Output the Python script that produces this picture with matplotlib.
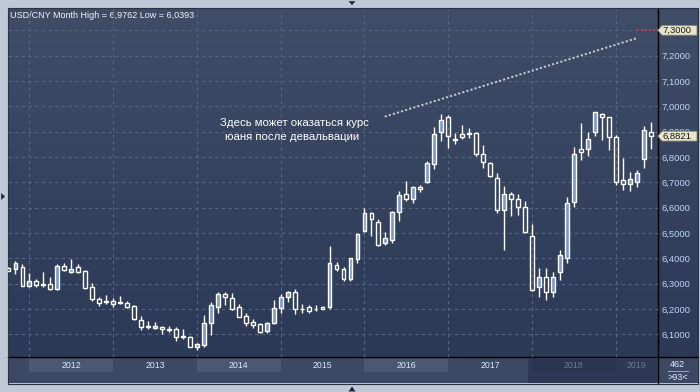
import numpy as np
import matplotlib
matplotlib.use('Agg')
import matplotlib.pyplot as plt
from matplotlib.patches import Rectangle, Polygon
from matplotlib.transforms import blended_transform_factory
from matplotlib.colors import LinearSegmentedColormap
from matplotlib.ticker import FixedLocator, FuncFormatter

plt.rcParams['font.family'] = ['Liberation Sans', 'DejaVu Sans']

# ---------------- data ----------------
# month index: 0 = Jan 2012 ; -3 = Oct 2011 ... 89 = Jun 2019
month_idx = list(range(-3, 90))
opens = [6.362, 6.357, 6.364, 6.292, 6.309, 6.298, 6.299, 6.278, 6.370, 6.347, 6.364, 6.350,
         6.285, 6.238, 6.231, 6.231, 6.226, 6.222, 6.212, 6.156, 6.134, 6.125, 6.128, 6.121,
         6.121, 6.094, 6.090, 6.051, 6.058, 6.143, 6.209, 6.259, 6.242, 6.207, 6.172, 6.150,
         6.141, 6.114, 6.143, 6.205, 6.248, 6.268, 6.201, 6.207, 6.201, 6.209, 6.209, 6.372,
         6.357, 6.317, 6.396, 6.509, 6.578, 6.545, 6.462, 6.472, 6.584, 6.653, 6.633, 6.680,
         6.701, 6.771, 6.897, 6.957, 6.870, 6.889, 6.893, 6.893, 6.810, 6.775, 6.716, 6.591,
         6.653, 6.633, 6.601, 6.489, 6.288, 6.326, 6.268, 6.347, 6.400, 6.623, 6.830, 6.830,
         6.900, 6.968, 6.957, 6.878, 6.709, 6.692, 6.702, 6.791, 6.897]
highs = [6.366, 6.389, 6.378, 6.341, 6.318, 6.345, 6.325, 6.378, 6.380, 6.396, 6.378, 6.354,
         6.301, 6.248, 6.254, 6.244, 6.251, 6.231, 6.214, 6.172, 6.152, 6.147, 6.133, 6.133,
         6.128, 6.120, 6.093, 6.064, 6.176, 6.229, 6.268, 6.268, 6.262, 6.220, 6.185, 6.159,
         6.143, 6.150, 6.235, 6.259, 6.270, 6.278, 6.218, 6.214, 6.214, 6.212, 6.449, 6.387,
         6.365, 6.402, 6.498, 6.597, 6.583, 6.554, 6.505, 6.588, 6.666, 6.705, 6.685, 6.689,
         6.784, 6.919, 6.970, 6.966, 6.893, 6.926, 6.913, 6.900, 6.847, 6.780, 6.735, 6.685,
         6.662, 6.654, 6.625, 6.535, 6.360, 6.360, 6.345, 6.433, 6.641, 6.838, 6.935, 6.897,
         6.976, 6.975, 6.959, 6.887, 6.795, 6.742, 6.748, 6.922, 6.937]
lows = [6.348, 6.337, 6.290, 6.288, 6.288, 6.288, 6.275, 6.275, 6.350, 6.343, 6.341, 6.280,
        6.233, 6.213, 6.218, 6.209, 6.218, 6.204, 6.156, 6.117, 6.120, 6.120, 6.101, 6.109,
        6.075, 6.080, 6.049, 6.039, 6.051, 6.097, 6.185, 6.216, 6.196, 6.167, 6.133, 6.124,
        6.106, 6.106, 6.141, 6.185, 6.229, 6.179, 6.185, 6.185, 6.190, 6.198, 6.201, 6.351,
        6.310, 6.310, 6.383, 6.505, 6.488, 6.449, 6.453, 6.462, 6.548, 6.627, 6.617, 6.663,
        6.696, 6.754, 6.864, 6.834, 6.850, 6.870, 6.876, 6.805, 6.758, 6.720, 6.578, 6.433,
        6.568, 6.571, 6.499, 6.272, 6.248, 6.235, 6.248, 6.314, 6.380, 6.601, 6.788, 6.805,
        6.884, 6.867, 6.827, 6.689, 6.670, 6.667, 6.682, 6.758, 6.831]
closes = [6.351, 6.380, 6.292, 6.309, 6.294, 6.295, 6.278, 6.370, 6.353, 6.359, 6.347, 6.284,
          6.238, 6.225, 6.226, 6.218, 6.222, 6.209, 6.160, 6.130, 6.130, 6.134, 6.120, 6.117,
          6.090, 6.090, 6.051, 6.062, 6.143, 6.216, 6.258, 6.246, 6.200, 6.170, 6.143, 6.137,
          6.110, 6.146, 6.203, 6.248, 6.268, 6.199, 6.199, 6.193, 6.199, 6.201, 6.380, 6.357,
          6.317, 6.400, 6.495, 6.578, 6.554, 6.453, 6.479, 6.584, 6.649, 6.633, 6.680, 6.672,
          6.775, 6.889, 6.946, 6.884, 6.867, 6.880, 6.890, 6.810, 6.779, 6.726, 6.591, 6.653,
          6.633, 6.601, 6.505, 6.276, 6.326, 6.268, 6.326, 6.413, 6.617, 6.810, 6.821, 6.870,
          6.976, 6.957, 6.878, 6.700, 6.692, 6.713, 6.735, 6.906, 6.882]

year_labels = ['2012', '2013', '2014', '2015', '2016', '2017', '2018', '2019']
year_label_pos = [6, 18, 30, 42, 54, 66, 78, 87]
year_starts = [0, 12, 24, 36, 48, 60, 72, 84]
y_ticks = [6.1, 6.2, 6.3, 6.4, 6.5, 6.6, 6.7, 6.8, 6.9, 7.0, 7.1, 7.2, 7.3]
last_price = 6.8821
target_price = 7.3
proj_x = [50.9, 86.9]
proj_y = [6.959, 7.268]
title = 'USD/CNY Month High = 6,9762 Low = 6,0393'
note_lines = ['Здесь может оказаться курс', 'юаня после девальвации']
bar_count_top = '462'
bar_count_bot = '>93<'

# ---------------- figure ----------------
W, H = 700, 392
fig = plt.figure(figsize=(7, 3.92), dpi=100, facecolor='#bec8d6')
bg = fig.add_axes([0, 0, 1, 1], zorder=0)
bg.set_xlim(0, W); bg.set_ylim(H, 0); bg.axis('off')

# panel gradient
cmap = LinearSegmentedColormap.from_list('g', ['#404d67', '#2c3957'])
grad = np.linspace(0, 1, 256)[:, None]
bg.imshow(grad, extent=(8, 697.5, 357, 8.5), cmap=cmap, aspect='auto',
          interpolation='bilinear', zorder=0)
# bottom bar
bg.add_patch(Rectangle((8, 357), 689.5, 26.3, facecolor='#3c4964', edgecolor='none', zorder=1))

# main axes
L0, R0, T0, B0 = 8, 657.6, 8.5, 357
ax = fig.add_axes([L0 / W, 1 - B0 / H, (R0 - L0) / W, (B0 - T0) / H], zorder=1)
ax.patch.set_alpha(0)
ax.set_xlim(-3.066, 90.0)
ax.set_ylim(6.0102, 7.386)
for s in ax.spines.values():
    s.set_visible(False)

# grid
ax.yaxis.set_major_locator(FixedLocator(y_ticks))
ax.yaxis.set_major_formatter(FuncFormatter(lambda v, p: f'{v:.4f}'.replace('.', ',')))
ax.xaxis.set_major_locator(FixedLocator(year_label_pos))
ax.xaxis.set_minor_locator(FixedLocator(year_starts))
ax.set_xticklabels(year_labels)
ax.grid(True, axis='y', which='major', color='#56647f', lw=0.8, ls=(0, (3, 3)))
ax.grid(True, axis='x', which='minor', color='#56647f', lw=0.8, ls=(0, (3, 3)))
ax.grid(False, axis='x', which='major')
ax.tick_params(axis='y', which='both', length=0, left=False, right=True,
               labelleft=False, labelright=True, pad=2.5, labelsize=6.8, labelcolor='#bcd4f4')
ax.tick_params(axis='x', which='both', length=0, pad=3.0, labelsize=6.3)
for lab, yl in zip(ax.get_xticklabels(), year_labels):
    lab.set_color('#6e7990' if yl in ('2018', '2019') else '#dfe8f6')

# year boxes in the bottom bar
btr = blended_transform_factory(ax.transData, bg.transData)
ax.add_patch(Rectangle((71.5, 357.5), 18.5, 25.5, transform=btr, clip_on=False,
                       facecolor='#2d3955', edgecolor='none', zorder=0.5))
for ys in (0, 24, 48):
    ax.add_patch(Rectangle((ys, 359), 12, 13.3, transform=btr, clip_on=False,
                           facecolor='#4b5873', edgecolor='none', zorder=0.6))
ax.add_patch(Rectangle((72, 359), 12, 13.3, transform=btr, clip_on=False,
                       facecolor='#2a3550', edgecolor='none', zorder=0.6))

# candles
idx = np.array(month_idx)
O = np.array(opens); Hh = np.array(highs); Ll = np.array(lows); C = np.array(closes)
up = C > O
blo = np.minimum(O, C); bhi = np.maximum(O, C)
hgt = np.maximum(bhi - blo, 0.0012)
fc = [('#7d97c6' if u else (0, 0, 0, 0)) for u in up]
ax.vlines(idx, bhi, Hh, color='white', lw=1.0, zorder=2.9)
ax.vlines(idx, Ll, blo, color='white', lw=1.0, zorder=2.9)
ax.bar(idx, hgt, bottom=blo, width=0.55, color=fc, edgecolor='white', linewidth=1.0, zorder=3)

# projection line and target
ax.plot(proj_x, proj_y, color='#c5c9d2', lw=1.4, ls=(0, (1.1, 1.1)), zorder=4)
ax.plot([87.0, 90.0], [target_price, target_price], color='#c03a48', lw=1.3,
        ls=(0, (1.1, 1.1)), zorder=4, clip_on=False)

# annotation
ax.text(27.3, 6.934, note_lines[0], color='white', fontsize=8.2, va='center', ha='left', zorder=5)
ax.text(28.0, 6.879, note_lines[1], color='white', fontsize=8.2, va='center', ha='left', zorder=5)

# price tags
ttr = blended_transform_factory(bg.transData, ax.transData)
for val in (target_price, last_price):
    dv = 0.0195
    poly = Polygon([(657.8, val), (662, val + dv), (697, val + dv), (697, val - dv), (662, val - dv)],
                   closed=True, transform=ttr, facecolor='#e7e4c9', edgecolor='#7d7c70',
                   lw=0.6, clip_on=False, zorder=6)
    ax.add_patch(poly)
    ax.text(662.5, val, f'{val:.4f}'.replace('.', ','), transform=ttr, fontsize=6.8,
            color='#1a1a1a', va='center', ha='left', zorder=7, clip_on=False)

# frame lines
bg.plot([8, 697.5], [357, 357], color='black', lw=1.0, zorder=2)
bg.plot([657.6, 657.6], [8.5, 383.3], color='black', lw=1.0, zorder=2)
bg.add_patch(Rectangle((7.5, 8.2), 690.3, 375.3, fill=False, edgecolor='#2a3344', lw=0.8, zorder=2))

# title
bg.text(10, 15, title, color='#f0f3f8', fontsize=6.5, va='center', ha='left', zorder=3)

# bar counter
bg.text(677.5, 364.3, bar_count_top, color='#e8eef8', fontsize=6.5, va='center', ha='center', zorder=3)
bg.plot([668, 688], [370.5, 370.5], color='#9aa6bc', lw=0.7, zorder=3)
bg.text(677.5, 377.2, bar_count_bot, color='#e8eef8', fontsize=6.5, va='center', ha='center', zorder=3)

# small navigation triangles
for pts in ([(348.5, 1.2), (355.5, 1.2), (352, 5.2)],
            [(348.5, 391.5), (355.5, 391.5), (352, 386.5)],
            [(1.2, 193), (1.2, 200), (5, 196.5)]):
    bg.add_patch(Polygon(pts, closed=True, facecolor='#1c2740', edgecolor='none', zorder=3))

fig.savefig('out.png', dpi=100, facecolor=fig.get_facecolor())
